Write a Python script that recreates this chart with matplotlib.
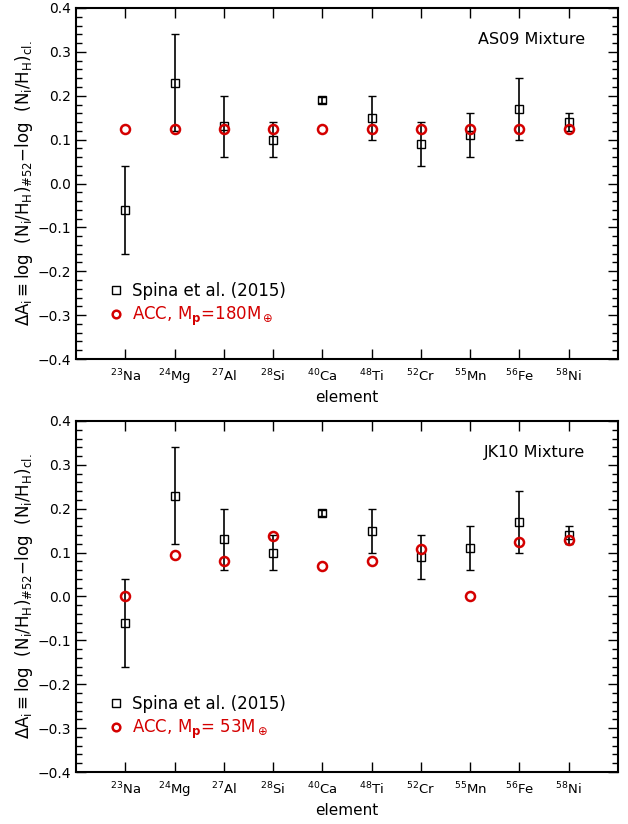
import matplotlib
matplotlib.use("Agg")
import matplotlib.pyplot as plt
from matplotlib.lines import Line2D
from matplotlib.ticker import MultipleLocator, FuncFormatter

plt.rcParams['font.family'] = ['DejaVu Sans']
plt.rcParams['mathtext.fontset'] = 'dejavusans'

# Elemente und Messwerte
elements = ['23Na', '24Mg', '27Al', '28Si', '40Ca', '48Ti', '52Cr', '55Mn', '56Fe', '58Ni']
tick_labels = [r'$^{23}$Na', r'$^{24}$Mg', r'$^{27}$Al', r'$^{28}$Si', r'$^{40}$Ca',
               r'$^{48}$Ti', r'$^{52}$Cr', r'$^{55}$Mn', r'$^{56}$Fe', r'$^{58}$Ni']
spina_vals = [-0.06, 0.23, 0.13, 0.10, 0.19, 0.15, 0.09, 0.11, 0.17, 0.14]
spina_err = [0.10, 0.11, 0.07, 0.04, 0.007, 0.05, 0.05, 0.05, 0.07, 0.02]
acc_as09 = [0.125, 0.125, 0.125, 0.125, 0.125, 0.125, 0.125, 0.125, 0.125, 0.125]
acc_jk10 = [0.0, 0.094, 0.080, 0.138, 0.070, 0.082, 0.109, 0.0, 0.125, 0.129]

panels = [
    ('AS09 Mixture', acc_as09, r'ACC, M$_\mathbf{p}$=180M$_\oplus$'),
    ('JK10 Mixture', acc_jk10, r'ACC, M$_\mathbf{p}$= 53M$_\oplus$'),
]

red = '#d40000'
ylabel = r'$\Delta$A$_\mathrm{i}$$\equiv$log  (N$_\mathrm{i}$/H$_\mathrm{H}$)$_{\#52}$$-$log  (N$_\mathrm{i}$/H$_\mathrm{H}$)$_\mathrm{cl.}$'

fig = plt.figure(figsize=(6.28, 8.24), dpi=100)
axes_pos = [[0.121, 0.5643, 0.863, 0.426], [0.121, 0.0631, 0.863, 0.426]]

x = list(range(1, len(elements) + 1))
fmt = FuncFormatter(lambda v, p: ('%.1f' % v).replace('-', '\u2212'))

for pos, (title, acc, acc_label) in zip(axes_pos, panels):
    ax = fig.add_axes(pos)
    ax.errorbar(x, spina_vals, yerr=spina_err, fmt='s', mfc='none', mec='black',
                ecolor='black', ms=6, mew=1.0, elinewidth=1.2, capsize=3, capthick=1.2,
                zorder=3)
    ax.plot(x, acc, 'o', mfc='none', mec=red, ms=6.5, mew=1.8, zorder=4)

    ax.set_xlim(0, 11)
    ax.set_ylim(-0.4, 0.4)
    ax.set_xticks(x)
    ax.set_xticklabels(tick_labels, fontsize=9.5)
    ax.yaxis.set_major_locator(MultipleLocator(0.1))
    ax.yaxis.set_minor_locator(MultipleLocator(0.02))
    ax.yaxis.set_major_formatter(fmt)
    ax.tick_params(axis='both', which='both', direction='in', top=True, right=True)
    ax.tick_params(axis='y', which='major', length=7, width=1, labelsize=10)
    ax.tick_params(axis='y', which='minor', length=4, width=1)
    ax.tick_params(axis='x', which='major', length=7, width=1, pad=6)
    for s in ax.spines.values():
        s.set_linewidth(1.5)

    ax.set_xlabel('element', fontsize=11, labelpad=2)
    ax.set_ylabel(ylabel, fontsize=12, labelpad=2)
    ax.text(0.94, 0.91, title, transform=ax.transAxes, ha='right', va='center', fontsize=11.5)

    # Legende ohne Rahmen
    h = [Line2D([], [], ls='none', marker='s', mfc='none', mec='black', ms=5.5, mew=1.0),
         Line2D([], [], ls='none', marker='o', mfc='none', mec=red, ms=5.5, mew=1.8)]
    leg = ax.legend(h, ['Spina et al. (2015)', acc_label], loc='lower left',
                    bbox_to_anchor=(0.03, 0.045), frameon=False,
                    fontsize=12, handletextpad=0.5, handlelength=1.0, labelspacing=0.3)
    leg.get_texts()[1].set_color(red)

fig.savefig('out.png', dpi=100)
